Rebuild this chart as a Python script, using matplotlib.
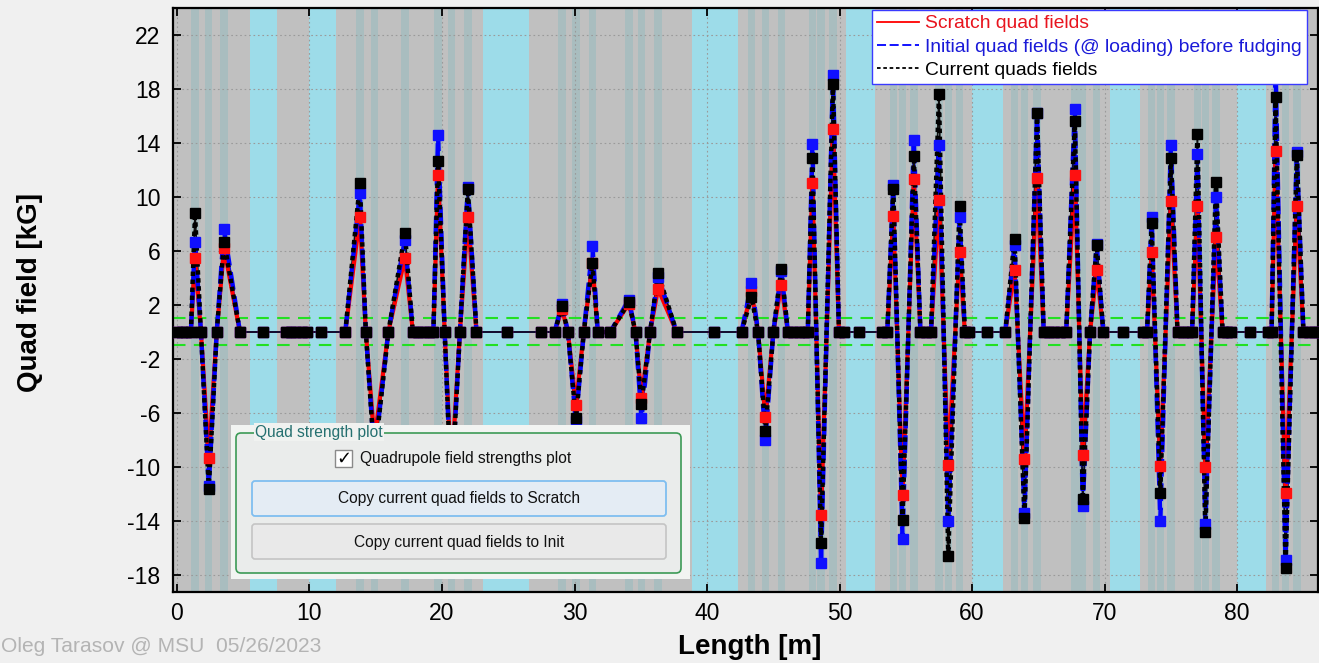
import matplotlib
matplotlib.use('Agg')
import matplotlib.pyplot as plt
import numpy as np
from matplotlib.patches import Rectangle, FancyBboxPatch
from matplotlib.lines import Line2D
from matplotlib.transforms import IdentityTransform

plt.rcParams['font.family'] = ['Liberation Sans', 'DejaVu Sans']
plt.rcParams['axes.unicode_minus'] = False

# ---------------- data ----------------
positions = [0.0, 0.35, 0.7, 1.05, 1.36, 1.81, 2.4, 3.0, 3.55, 4.75,
             6.5, 8.2, 8.6, 9.0, 9.4, 9.8, 10.9, 12.7, 13.8, 14.25,
             14.9, 15.95, 17.2, 17.8, 18.2, 18.6, 19.0, 19.35, 19.7, 20.2,
             20.7, 21.35, 21.95, 22.6, 24.9, 27.5, 28.5, 29.05, 29.5, 30.1,
             30.7, 31.35, 31.75, 32.7, 34.1, 34.6, 35.05, 35.7, 36.3, 37.7,
             40.5, 42.6, 43.35, 43.85, 44.4, 45.0, 45.6, 46.1, 46.5, 46.9,
             47.3, 47.6, 47.95, 48.6, 49.5, 49.95, 50.3, 51.5, 53.2, 53.6,
             54.05, 54.75, 55.6, 56.1, 56.5, 56.9, 57.5, 58.2, 59.05, 59.45,
             59.8, 61.1, 62.5, 63.2, 63.95, 64.9, 65.4, 65.8, 66.2, 66.6,
             67.1, 67.75, 68.35, 68.9, 69.4, 69.9, 71.4, 72.9, 73.2, 73.55,
             74.2, 75.0, 75.5, 75.9, 76.3, 76.6, 77.0, 77.6, 78.4, 78.9,
             79.2, 79.5, 81.0, 82.3, 82.6, 82.9, 83.65, 84.5, 85.0, 85.4,
             85.8, 86.2]

scratch = [0, 0, 0, 0, 5.5, 0, -9.3, 0, 6.2, 0,
           0, 0, 0, 0, 0, 0, 0, 0, 8.5, 0,
           -8.0, 0, 5.5, 0, 0, 0, 0, 0, 11.6, 0,
           -10.5, 0, 8.5, 0, 0, 0, 0, 1.7, 0, -5.4,
           0, 5.1, 0, 0, 2.1, 0, -4.9, 0, 3.2, 0,
           0, 0, 3.0, 0, -6.3, 0, 3.5, 0, 0, 0,
           0, 0, 11.0, -13.55, 15.0, 0, 0, 0, 0, 0,
           8.6, -12.1, 11.3, 0, 0, 0, 9.8, -9.85, 5.95, 0,
           0, 0, 0, 4.6, -9.4, 11.4, 0, 0, 0, 0,
           0, 11.6, -9.1, 0, 4.6, 0, 0, 0, 0, 5.95,
           -9.9, 9.7, 0, 0, 0, 0, 9.3, -10.0, 7.05, 0,
           0, 0, 0, 0, 0, 13.4, -11.95, 9.3, 0, 0,
           0, 0]

initial = [0, 0, 0, 0, 6.7, 0, -11.4, 0, 7.6, 0,
           0, 0, 0, 0, 0, 0, 0, 0, 10.3, 0,
           -9.2, 0, 6.8, 0, 0, 0, 0, 0, 14.6, 0,
           -12.0, 0, 10.75, 0, 0, 0, 0, 2.1, 0, -6.6,
           0, 6.4, 0, 0, 2.4, 0, -6.4, 0, 4.1, 0,
           0, 0, 3.6, 0, -8.0, 0, 4.5, 0, 0, 0,
           0, 0, 13.9, -17.1, 19.0, 0, 0, 0, 0, 0,
           10.9, -15.3, 14.2, 0, 0, 0, 13.85, -14.0, 8.5, 0,
           0, 0, 0, 6.45, -13.4, 16.2, 0, 0, 0, 0,
           0, 16.5, -12.9, 0, 6.5, 0, 0, 0, 0, 8.55,
           -14.0, 13.85, 0, 0, 0, 0, 13.2, -14.2, 10.0, 0,
           0, 0, 0, 0, 0, 19.5, -16.9, 13.3, 0, 0,
           0, 0]

current = [0, 0, 0, 0, 8.8, 0, -11.6, 0, 6.7, 0,
           0, 0, 0, 0, 0, 0, 0, 0, 11.0, 0,
           -9.4, 0, 7.3, 0, 0, 0, 0, 0, 12.7, 0,
           -12.1, 0, 10.6, 0, 0, 0, 0, 1.9, 0, -6.4,
           0, 5.1, 0, 0, 2.2, 0, -5.3, 0, 4.35, 0,
           0, 0, 2.6, 0, -7.3, 0, 4.7, 0, 0, 0,
           0, 0, 12.9, -15.65, 18.4, 0, 0, 0, 0, 0,
           10.6, -13.9, 13.0, 0, 0, 0, 17.6, -16.6, 9.3, 0,
           0, 0, 0, 6.9, -13.8, 16.2, 0, 0, 0, 0,
           0, 15.65, -12.4, 0, 6.45, 0, 0, 0, 0, 8.1,
           -11.95, 12.9, 0, 0, 0, 0, 14.7, -14.8, 11.1, 0,
           0, 0, 0, 0, 0, 17.4, -17.5, 13.1, 0, 0,
           0, 0]

cyan_start = [5.5, 10.0, 23.1, 38.9, 50.5, 60.0, 70.4, 80.0]
cyan_end = [7.55, 12.0, 26.6, 42.3, 52.7, 62.3, 72.7, 82.2]

tolerance = [-1.0, 1.0]

x_ticks = [0, 10, 20, 30, 40, 50, 60, 70, 80]
y_ticks = [-18, -14, -10, -6, -2, 2, 6, 10, 14, 18, 22]

labels = ['Scratch quad fields',
          'Initial quad fields (@ loading) before fudging',
          'Current quads fields']

# ---------------- figure ----------------
W, H = 1319, 663
fig = plt.figure(figsize=(W / 100, H / 100), dpi=100, facecolor='#f0f0f0')
ax = fig.add_axes([173 / W, 1 - 592 / H, (1318 - 173) / W, (592 - 8) / H])
ax.set_facecolor('#c0c0c0')

x = np.array(positions)
s = np.array(scratch, dtype=float)
ini = np.array(initial, dtype=float)
cur = np.array(current, dtype=float)

# background bands
for a, b in zip(cyan_start, cyan_end):
    ax.axvspan(a, b, color='#9ddce9', lw=0, zorder=0.6)
quad_x = x[cur != 0]
for q in quad_x:
    ax.axvspan(q - 0.28, q + 0.28, color='#a9bdbf', lw=0, zorder=0.7)

ax.set_xlim(-0.3, 86.1)
ax.set_ylim(-19.26, 24.0)
ax.set_xticks(x_ticks)
ax.set_yticks(y_ticks)
ax.grid(True, color='#9a9a9a', linestyle=(0, (1.5, 2.5)), linewidth=0.8)

for v in tolerance:
    ax.axhline(v, color='#22e022', linestyle=(0, (6, 4)), linewidth=1.5, zorder=1.8)

# mask of points that belong to sloped segments
is_zero = cur == 0
keep = np.ones(len(x), dtype=bool)
for i in range(len(x)):
    if is_zero[i]:
        left = (i == 0) or is_zero[i - 1]
        right = (i == len(x) - 1) or is_zero[i + 1]
        if left and right:
            keep[i] = False

def thick(arr):
    out = arr.copy()
    out[~keep] = np.nan
    return out

# thin base lines
ax.plot(x, s, color='#ff0000', lw=1.2, zorder=2.0)
ax.plot(x, ini, color='#0000ff', lw=1.2, zorder=2.1)
ax.plot(x, cur, color='#101010', lw=1.2, zorder=2.2)
# thick sloped lines
ax.plot(x, thick(s), color='#ff0000', lw=3.0, zorder=2.3, solid_capstyle='butt')
ax.plot(x, thick(ini), color='#0000ff', lw=3.2, zorder=2.4,
        linestyle=(0, (4, 1.5)))
ax.plot(x, thick(cur), color='#000000', lw=3.2, zorder=2.5,
        linestyle=(0, (1, 0.8)))
# markers
ax.plot(x, s, ls='none', marker='s', ms=6.5, mfc='#ff1010', mec='#ff1010', zorder=3.0)
ax.plot(x, ini, ls='none', marker='s', ms=7, mfc='#1010ff', mec='#1010ff', zorder=3.1)
ax.plot(x, cur, ls='none', marker='s', ms=7, mfc='#000000', mec='#000000', zorder=3.2)

for sp in ax.spines.values():
    sp.set_linewidth(1.6)
    sp.set_color('black')
ax.tick_params(direction='in', top=True, right=True, length=6, width=1.3,
               labelsize=16.5, colors='black')
ax.tick_params(axis='y', pad=9)
ax.tick_params(axis='x', pad=7)

# axis labels
def fx(px):
    return px / W

def fy(py):
    return 1 - py / H

fig.text(fx(30), fy(292), 'Quad field [kG]', rotation=90, ha='center', va='center',
         fontsize=20, fontweight='bold')
fig.text(fx(750), fy(647), 'Length [m]', ha='center', va='center',
         fontsize=20, fontweight='bold')
fig.text(fx(1), fy(646), 'Oleg Tarasov @ MSU  05/26/2023', ha='left', va='center',
         fontsize=15.1, color='#b4b4b4')

# legend
handles = [Line2D([], [], color='#ff0000', lw=1.3),
           Line2D([], [], color='#0000ff', lw=1.3, linestyle=(0, (5, 2))),
           Line2D([], [], color='#000000', lw=1.3, linestyle=(0, (2, 1.5)))]
leg = fig.legend(handles, labels, loc='upper left', bbox_to_anchor=(fx(872), fy(10)),
                 fontsize=13.9, handlelength=2.2, handletextpad=0.3, borderpad=0.25,
                 labelspacing=0.3, borderaxespad=0, fancybox=False, framealpha=1,
                 edgecolor='#3a3aff', facecolor='white')
leg.get_frame().set_linewidth(1.0)
for t, c in zip(leg.get_texts(), ['#e8141e', '#1a1ad8', '#000000']):
    t.set_color(c)

# GUI panel overlay
idt = IdentityTransform()

def rect(x0, y0, x1, y1, **kw):
    # pixel coordinates measured from top-left
    return Rectangle((x0, H - y1), x1 - x0, y1 - y0, transform=idt, **kw)

def rrect(x0, y0, x1, y1, r, **kw):
    return FancyBboxPatch((x0, H - y1), x1 - x0, y1 - y0,
                          boxstyle=f'round,pad=0,rounding_size={r}', transform=idt, **kw)

fig.patches.append(rect(231, 425, 690, 579, fc='#f2f4f2', ec='none', zorder=5))
fig.patches.append(rrect(236, 433, 681, 573, 5, fc='#eaeceb', ec='#3c9a56', lw=1.2, zorder=6))
fig.text(fx(255), fy(432), 'Quad strength plot', ha='left', va='center', fontsize=11.2,
         color='#257070', zorder=8,
         bbox=dict(facecolor='#f0f2f0', edgecolor='none', pad=1.0))
fig.patches.append(rect(335, 450, 352, 467, fc='white', ec='#8a8a8a', lw=1.0, zorder=7))
fig.text(fx(343.5), fy(459), '\u2713', ha='center', va='center', fontsize=13,
         family='DejaVu Sans', fontweight='bold', color='black', zorder=8)
fig.text(fx(360), fy(458), 'Quadrupole field strengths plot', ha='left', va='center',
         fontsize=11.2, color='#111111', zorder=8)
fig.patches.append(rrect(252, 481, 666, 516, 3, fc='#e4ecf4', ec='#7fbef0', lw=1.3, zorder=7))
fig.text(fx(459), fy(498), 'Copy current quad fields to Scratch', ha='center', va='center',
         fontsize=11.2, color='#111111', zorder=8)
fig.patches.append(rrect(252, 524, 666, 559, 3, fc='#e9e9e9', ec='#c4c4c4', lw=1.2, zorder=7))
fig.text(fx(459), fy(542), 'Copy current quad fields to Init', ha='center', va='center',
         fontsize=11.2, color='#111111', zorder=8)

fig.savefig('out.png', dpi=100, facecolor=fig.get_facecolor())
